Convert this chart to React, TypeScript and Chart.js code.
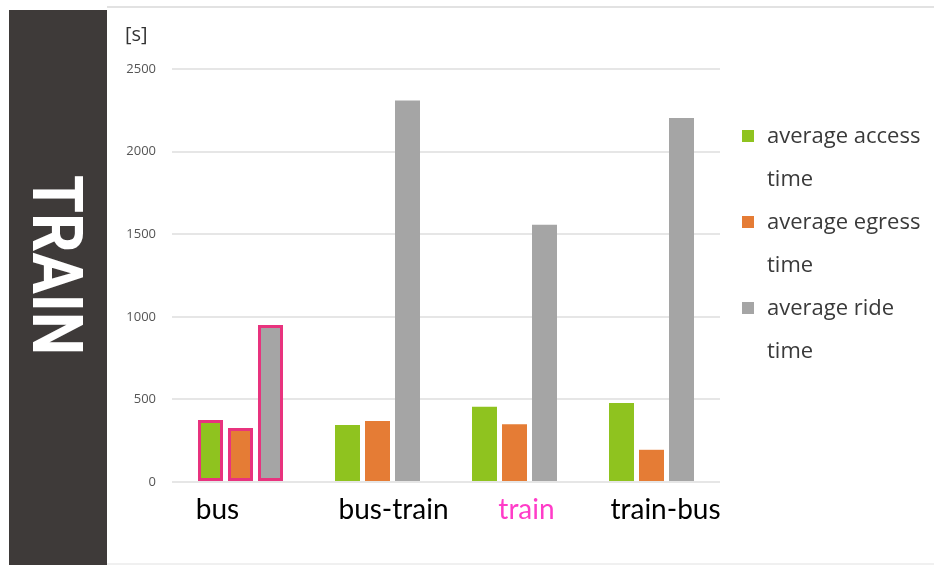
import { useEffect, useRef } from 'react';
import { Chart, registerables } from 'chart.js';

Chart.register(...registerables);

// Travel-time components per trip type, in seconds
const CATEGORIES = ['bus', 'bus-train', 'train', 'train-bus'];
const ACCESS_TIME = [375, 345, 455, 478];
const EGRESS_TIME = [327, 369, 350, 195];
const RIDE_TIME = [950, 2310, 1557, 2203];

const SERIES_NAMES = ['average access time', 'average egress time', 'average ride time'];
const SERIES_COLORS = ['#8fc31f', '#e57c35', '#a5a5a5'];
const CATEGORY_COLORS = ['#000000', '#000000', '#ff3cc8', '#000000'];
const HIGHLIGHTED_CATEGORY = 'bus';
const Y_TICKS = [0, 500, 1000, 1500, 2000, 2500];

const PANEL_TITLE = 'TRAIN';
const UNIT_LABEL = '[s]';

// Layout constants
const W = 934;
const H = 565;
const OUTLINE = '#e8337e';
const LABEL_NUDGE = [-23, 16, 12, 14];

function splitName(name: string): string[] {
  const i = name.lastIndexOf(' ');
  return i > 0 ? [name.slice(0, i), name.slice(i + 1)] : [name];
}

const framePlugin = {
  id: 'frame',
  beforeDraw(chart: Chart) {
    const ctx = chart.ctx;
    ctx.save();
    ctx.fillStyle = '#ffffff';
    ctx.fillRect(0, 0, W, H);
    // thin rules above and below the chart
    ctx.strokeStyle = '#e2e2e2';
    ctx.lineWidth = 2;
    ctx.beginPath();
    ctx.moveTo(107, 7);
    ctx.lineTo(W, 7);
    ctx.stroke();
    ctx.strokeStyle = '#f0f0f0';
    ctx.beginPath();
    ctx.moveTo(107, 564);
    ctx.lineTo(W, 564);
    ctx.stroke();
    // dark side panel with vertical title
    ctx.fillStyle = '#3e3a39';
    ctx.fillRect(9, 10, 98, H - 10);
    ctx.translate(58, 265);
    ctx.rotate(Math.PI / 2);
    ctx.font = 'bold 70px Roboto';
    const w = ctx.measureText(PANEL_TITLE).width;
    ctx.scale(180 / w, 1);
    ctx.fillStyle = '#ffffff';
    ctx.textAlign = 'center';
    ctx.textBaseline = 'alphabetic';
    ctx.fillText(PANEL_TITLE, 0, 25);
    ctx.restore();
  },
};

const overlayPlugin = {
  id: 'overlay',
  afterDraw(chart: Chart) {
    const ctx = chart.ctx;
    const area = chart.chartArea;
    const xScale = chart.scales.x;
    ctx.save();

    // unit label above the value axis
    ctx.font = '20px "Open Sans"';
    ctx.fillStyle = '#333333';
    ctx.textAlign = 'left';
    ctx.textBaseline = 'alphabetic';
    ctx.fillText(UNIT_LABEL, 125, 41);

    // category labels
    ctx.font = '28px Lato';
    ctx.textAlign = 'center';
    CATEGORIES.forEach((c, i) => {
      ctx.fillStyle = CATEGORY_COLORS[i];
      ctx.fillText(c, xScale.getPixelForTick(i) + LABEL_NUDGE[i], 519);
    });

    // legend
    const lx = area.right + 22;
    ctx.textAlign = 'left';
    ctx.font = '22px "Open Sans"';
    chart.data.datasets.forEach((ds, i) => {
      const top = 130 + i * 86;
      ctx.fillStyle = SERIES_COLORS[i];
      ctx.fillRect(lx, top, 12, 12);
      ctx.fillStyle = '#3a3a3a';
      splitName(String(ds.label)).forEach((line, j) => {
        ctx.fillText(line, lx + 25, top + 13 + j * 43);
      });
    });
    ctx.restore();
  },
};

export default function App() {
  const canvasRef = useRef<HTMLCanvasElement | null>(null);

  useEffect(() => {
    document.body.style.margin = '0';
    const canvas = canvasRef.current;
    if (!canvas) return;
    const hi = CATEGORIES.indexOf(HIGHLIGHTED_CATEGORY);
    const series = [ACCESS_TIME, EGRESS_TIME, RIDE_TIME];

    const chart = new Chart(canvas, {
      type: 'bar',
      data: {
        labels: CATEGORIES,
        datasets: series.map((values, i) => ({
          label: SERIES_NAMES[i],
          data: values,
          backgroundColor: SERIES_COLORS[i],
          borderColor: OUTLINE,
          borderWidth: (c: any) => (c.dataIndex === hi ? 3 : 0),
          borderSkipped: false,
          categoryPercentage: 0.657,
          barPercentage: 0.833,
        })),
      },
      options: {
        responsive: false,
        animation: false,
        layout: { padding: { left: 0, top: 69, right: 214, bottom: 0 } },
        plugins: {
          legend: { display: false },
          tooltip: { enabled: false },
        },
        scales: {
          x: {
            grid: { display: false },
            border: { display: false },
            ticks: { display: false },
            afterFit: (s: any) => {
              s.height = 83;
            },
          },
          y: {
            min: Y_TICKS[0],
            max: Y_TICKS[Y_TICKS.length - 1],
            afterBuildTicks: (s: any) => {
              s.ticks = Y_TICKS.map((v) => ({ value: v }));
            },
            grid: { color: '#e6e6e6', lineWidth: 2, drawTicks: false },
            border: { display: false },
            ticks: {
              padding: 16,
              color: '#555555',
              font: { family: '"Open Sans"', size: 13 },
              callback: (v: any) => String(v),
            },
            afterFit: (s: any) => {
              s.width = 172;
            },
          },
        },
      },
      plugins: [framePlugin, overlayPlugin],
    });
    return () => chart.destroy();
  }, []);

  return (
    <div style={{ width: W, height: H, position: 'relative' }}>
      <canvas ref={canvasRef} width={W} height={H} style={{ display: 'block' }} />
    </div>
  );
}
